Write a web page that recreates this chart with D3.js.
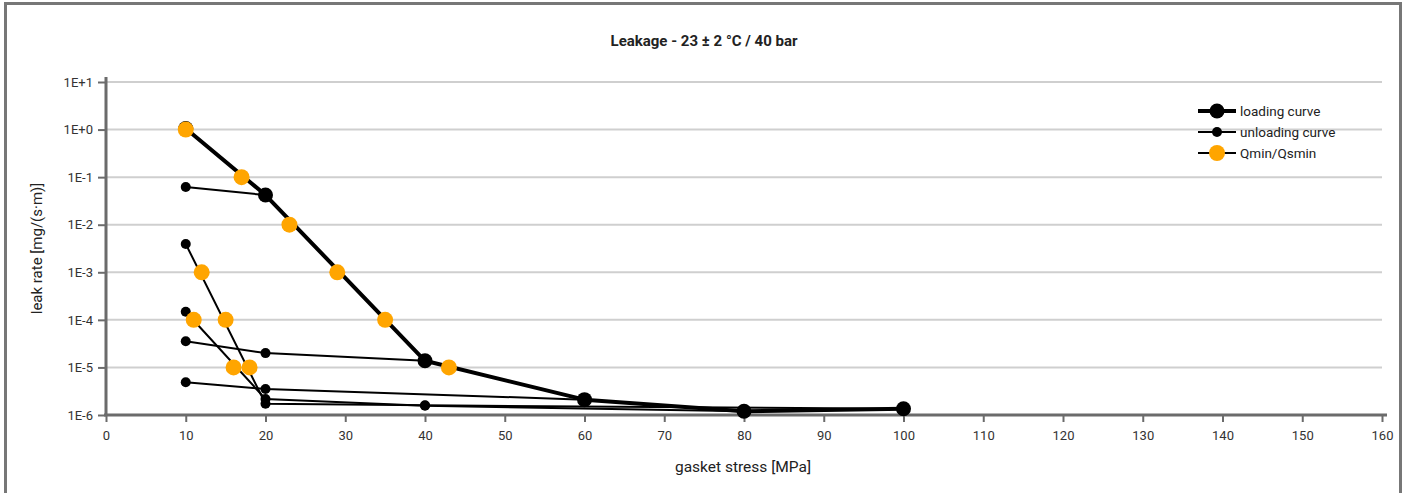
<!DOCTYPE html>
<html>
<head>
<meta charset="utf-8">
<script src="https://cdn.jsdelivr.net/npm/d3@7"></script>
<style>
  html, body { margin: 0; padding: 0; background: #fff; }
  svg { display: block; font-family: Roboto, "Open Sans", sans-serif; }
</style>
</head>
<body>
<svg id="chart" width="1407" height="493"></svg>
<script>
// gasket stress [MPa] / leak rate [mg/(s·m)]
const loadX = [10, 20, 40, 60, 80, 100]
const loadY = [1.05, 0.042, 1.38e-5, 2.1e-6, 1.2e-6, 1.35e-6]

// unloading curves, each from the max stress of a cycle back down to 10 MPa
const unload20X = [20, 10]
const unload20Y = [0.042, 0.062]
const unload40X = [40, 20, 10]
const unload40Y = [1.38e-5, 2.0e-5, 3.55e-5]
const unload60X = [60, 20, 10]
const unload60Y = [2.1e-6, 3.52e-6, 4.86e-6]
const unload80X = [80, 40, 20, 10]
const unload80Y = [1.2e-6, 1.57e-6, 2.17e-6, 1.48e-4]
const unload100X = [100, 40, 20, 10]
const unload100Y = [1.35e-6, 1.6e-6, 1.73e-6, 3.93e-3]

const qminX = [10, 17, 23, 29, 35, 43, 12, 15, 18, 11, 16]
const qminY = [1, 0.1, 0.01, 1e-3, 1e-4, 1e-5, 1e-3, 1e-4, 1e-5, 1e-4, 1e-5]

const xTicks = d3.range(0, 161, 10)
const yTicks = [1e1, 1e0, 1e-1, 1e-2, 1e-3, 1e-4, 1e-5, 1e-6]
const legendNames = ['loading curve', 'unloading curve', 'Qmin/Qsmin']

const W = 1407, H = 493
const L = 106, R = 1382, T = 82, B = 415
const AXIS = '#6b6b6b', GRID = '#cfcfcf', ORANGE = '#ffa500'

const svg = d3.select('#chart')

// frame
svg.append('path').attr('d', 'M5.5,' + (H + 5) + ' V3.5 H1400.5 V' + (H + 5))
  .attr('fill', 'none').attr('stroke', '#777').attr('stroke-width', 3)

const x = d3.scaleLinear().domain([0, 160]).range([L, R])
const y = d3.scaleLog().domain([1e-6, 10]).range([B, T])

function fmtE(v) {
  const e = Math.round(Math.log10(v))
  return '1E' + (e >= 0 ? '+' : '') + e
}

// grid
svg.append('g').selectAll('line').data(yTicks.filter(function (v) { return v > 1e-6 })).join('line')
  .attr('x1', L).attr('x2', R)
  .attr('y1', function (d) { return y(d) }).attr('y2', function (d) { return y(d) })
  .attr('stroke', GRID).attr('stroke-width', 2)

// y axis
const ya = svg.append('g').attr('transform', 'translate(' + L + ',0)')
  .call(d3.axisLeft(y).tickValues(yTicks).tickFormat(fmtE).tickSize(8).tickSizeOuter(0))
ya.select('.domain').attr('stroke', AXIS).attr('stroke-width', 3).attr('d', 'M0,' + (T - 5) + 'V' + (B + 1))
ya.selectAll('.tick line').attr('stroke', AXIS).attr('stroke-width', 2)
ya.selectAll('.tick text').attr('font-size', 13).attr('fill', '#333').attr('font-family', 'Roboto').attr('x', -13)

// x axis
const xa = svg.append('g').attr('transform', 'translate(0,' + B + ')')
  .call(d3.axisBottom(x).tickValues(xTicks).tickSize(7).tickSizeOuter(0))
xa.select('.domain').attr('stroke', AXIS).attr('stroke-width', 3).attr('d', 'M' + (L - 2) + ',0H' + (R + 5))
xa.selectAll('.tick line').attr('stroke', AXIS).attr('stroke-width', 2)
xa.selectAll('.tick text').attr('font-size', 13).attr('fill', '#333').attr('font-family', 'Roboto').attr('y', 16)

// titles
svg.append('text').attr('x', 704).attr('y', 46).attr('text-anchor', 'middle')
  .attr('font-size', 15).attr('font-weight', 'bold').attr('fill', '#222')
  .text('Leakage - 23 \u00b1 2 \u00b0C / 40 bar')
svg.append('text').attr('x', 743).attr('y', 472).attr('text-anchor', 'middle')
  .attr('font-size', 15.5).attr('fill', '#222').text('gasket stress [MPa]')
svg.append('text').attr('transform', 'translate(42,' + ((T + B) / 2) + ') rotate(-90)')
  .attr('text-anchor', 'middle').attr('font-size', 15).attr('fill', '#222')
  .text('leak rate [mg/(s\u00b7m)]')

function pts(xs, ys) { return xs.map(function (v, i) { return [v, ys[i]] }) }
const line = d3.line().x(function (d) { return x(d[0]) }).y(function (d) { return y(d[1]) })

const unloads = [pts(unload20X, unload20Y), pts(unload40X, unload40Y), pts(unload60X, unload60Y),
  pts(unload80X, unload80Y), pts(unload100X, unload100Y)]
const loads = pts(loadX, loadY)

const plot = svg.append('g')
plot.selectAll('path.unload').data(unloads).join('path').attr('class', 'unload')
  .attr('d', line).attr('fill', 'none').attr('stroke', '#000').attr('stroke-width', 2)
plot.append('path').datum(loads).attr('d', line)
  .attr('fill', 'none').attr('stroke', '#000').attr('stroke-width', 4).attr('stroke-linejoin', 'round')

plot.selectAll('circle.ud').data(unloads.flat()).join('circle').attr('class', 'ud')
  .attr('cx', function (d) { return x(d[0]) }).attr('cy', function (d) { return y(d[1]) })
  .attr('r', 5).attr('fill', '#000')
plot.selectAll('circle.ld').data(loads).join('circle').attr('class', 'ld')
  .attr('cx', function (d) { return x(d[0]) }).attr('cy', function (d) { return y(d[1]) })
  .attr('r', 7.5).attr('fill', '#000')
plot.selectAll('circle.q').data(pts(qminX, qminY)).join('circle').attr('class', 'q')
  .attr('cx', function (d) { return x(d[0]) }).attr('cy', function (d) { return y(d[1]) })
  .attr('r', 8).attr('fill', ORANGE)

// legend
const lg = svg.append('g').selectAll('g').data(legendNames).join('g')
  .attr('transform', function (d, i) { return 'translate(1198,' + (111 + i * 21) + ')' })
lg.append('line').attr('x1', 0).attr('x2', 38)
  .attr('stroke', '#000').attr('stroke-width', function (d, i) { return i === 0 ? 4 : 2 })
lg.append('circle').attr('cx', 19).attr('r', function (d, i) { return i === 0 ? 7.5 : i === 1 ? 5 : 8 })
  .attr('fill', function (d, i) { return i === 2 ? ORANGE : '#000' })
lg.append('text').attr('x', 42).attr('dy', '0.35em').attr('font-size', 13.5).attr('fill', '#222')
  .text(function (d) { return d })
</script>
</body>
</html>
